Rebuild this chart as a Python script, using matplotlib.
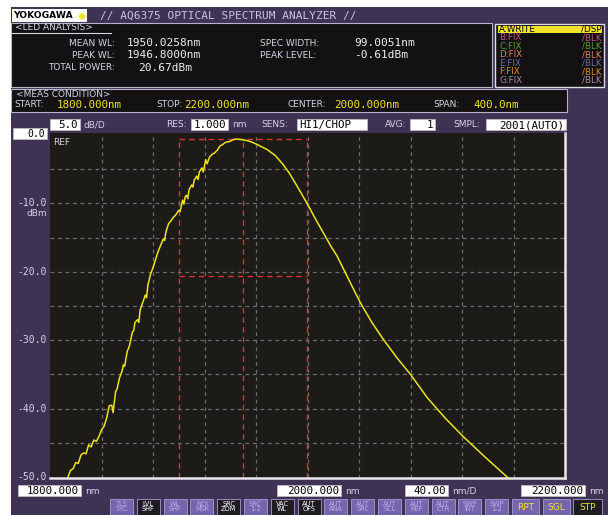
import matplotlib.pyplot as plt
from matplotlib.patches import Rectangle

# ---- data ----
wavelength_nm = [1814, 1816, 1818, 1820, 1822, 1824, 1826, 1828, 1830, 1832, 1834, 1836,
                 1838, 1840, 1842, 1844, 1845, 1846, 1848, 1849, 1850, 1851, 1852, 1854,
                 1856, 1857, 1858, 1860, 1861, 1862, 1864, 1865, 1866, 1868, 1869, 1870,
                 1871, 1872, 1874, 1875, 1876, 1878, 1880, 1882, 1884, 1886, 1888, 1889,
                 1890, 1892, 1894, 1896, 1898, 1900, 1901, 1902, 1903, 1904, 1905, 1906,
                 1907, 1908, 1910, 1911, 1912, 1914, 1915, 1916, 1918, 1919, 1920, 1921,
                 1922, 1924, 1926, 1928, 1930, 1932, 1934, 1936, 1938, 1940, 1942, 1944,
                 1946.8, 1950, 1955, 1960, 1968.5, 1975, 1981, 1986, 1992, 2000, 2006,
                 2012, 2018, 2023, 2028, 2033, 2041, 2050, 2059, 2070, 2080, 2093, 2107,
                 2121, 2138, 2155, 2165]
level_dbm = [-50.0, -49.0, -48.8, -47.9, -48.0, -46.8, -46.5, -46.6, -45.3, -45.6, -44.6, -44.8,
             -44.1, -43.1, -42.6, -41.4, -40.5, -39.6, -39.5, -40.6, -39.0, -37.5, -37.2, -35.5,
             -34.5, -33.6, -33.8, -31.6, -31.2, -30.6, -28.8, -28.6, -27.4, -27.0, -27.4, -25.6,
             -25.0, -24.5, -23.4, -23.8, -22.0, -20.4, -19.4, -18.2, -17.0, -16.1, -15.2, -15.4,
             -14.2, -13.0, -12.5, -12.0, -11.6, -11.0, -11.2, -10.4, -9.5, -10.1, -9.0, -8.8,
             -9.3, -8.0, -7.3, -7.6, -6.6, -6.0, -6.5, -5.4, -4.8, -5.4, -4.5, -3.6,
             -4.2, -3.2, -2.8, -2.6, -2.2, -1.6, -1.4, -1.1, -1.0, -0.9, -0.7, -0.6,
             -0.61, -0.7, -0.9, -1.3, -2.1, -3.0, -4.3, -5.6, -7.5, -10.1, -12.2,
             -14.2, -16.2, -17.7, -19.6, -21.5, -24.5, -27.4, -29.9, -32.7, -35.0, -38.4, -41.4,
             -44.1, -47.1, -50.0, -51.5]

mean_wl = 1950.0258
peak_wl = 1946.8000
total_power = 20.67
spec_width = 99.0051
peak_level = -0.61

start_nm, center_nm, stop_nm = 1800.0, 2000.0, 2200.0
span_nm = 400.0
ref_level = 0.0
db_per_div = 5.0
y_tick_values = [-10, -20, -30, -40, -50]

trace_names = ["A:WRITE", "B:FIX", "C:FIX", "D:FIX", "E:FIX", "F:FIX", "G:FIX"]
trace_modes = ["/DSP", "/BLK", "/BLK", "/BLK", "/BLK", "/BLK", "/BLK"]
trace_colors = ["black", "#c8508c", "#52a030", "#d88070", "#6c6aa4", "#e08a20", "#a98aa8"]

buttons = ["TLS\nSYC", "LVL\nSHF", "WL\nSHF", "NOI\nMSK", "SRC\nZOM", "SRC\n1-2", "VAC\nWL",
           "AUT\nOFS", "AUT\nANA", "AUT\nSRC", "AUT\nSCL", "AUT\nREF", "AUT\nCTR",
           "SWP\nINT", "SWP\n1-2"]
dark_buttons = ["LVL\nSHF", "SRC\nZOM", "VAC\nWL", "AUT\nOFS"]

# ---- colours ----
PURPLE = "#3e3255"
PANEL = "#131111"
PLOT_BG = "#1c1b18"
GRID = "#6c6c6c"
TRACE = "#eee21e"
LAB = "#d6d3e4"
YEL = "#f2e22a"
RED = "#e03030"
MONO = "DejaVu Sans Mono"

W, H = 611, 515
fig = plt.figure(figsize=(W / 100, H / 100), dpi=100, facecolor="white")
bg = fig.add_axes([0, 0, 1, 1])
bg.set_xlim(0, W)
bg.set_ylim(H, 0)
bg.axis("off")


def rect(x0, y0, x1, y1, fc, ec="none", lw=0.8):
    bg.add_patch(Rectangle((x0, y0), x1 - x0, y1 - y0, facecolor=fc, edgecolor=ec, linewidth=lw))


def txt(x, y, s, size=6.5, color=LAB, ha="left", family="DejaVu Sans", **kw):
    bg.text(x, y, s, fontsize=size, color=color, ha=ha, va="center", family=family, **kw)


def valbox(x0, x1, y0, y1, s, size=7.8, left=False):
    rect(x0, y0, x1, y1, "white", ec="#bdbdbd", lw=0.6)
    if left:
        txt(x0 + 2, (y0 + y1) / 2 + 0.5, s, size, "black", family=MONO)
    else:
        txt(x1 - 2, (y0 + y1) / 2 + 0.5, s, size, "black", ha="right", family=MONO)


rect(11, 7, 608, 520, PURPLE)

# header
rect(12, 9, 87, 22, "white")
txt(13.5, 15.8, "YOKOGAWA", 6.6, "black", weight="bold")
txt(82, 15.5, "\u25c6", 7.5, YEL, ha="center")
txt(100, 15.5, "// AQ6375 OPTICAL SPECTRUM ANALYZER //", 8, "#c9c2e0", family=MONO)

# LED analysis panel
rect(11, 23, 492, 87, PANEL, ec="#b8b4c8")
txt(15, 28, "<LED ANALYSIS>", 6.5)
bg.plot([12, 111], [33, 33], color=LAB, lw=0.8)
txt(115, 43, "MEAN WL:", ha="right")
txt(115, 55, "PEAK WL:", ha="right")
txt(115, 68, "TOTAL POWER:", ha="right")
txt(127, 43, f"{mean_wl:.4f}nm", 8, "#f0f0f0", family=MONO)
txt(127, 55, f"{peak_wl:.4f}nm", 8, "#f0f0f0", family=MONO)
txt(138, 68, f"{total_power:.2f}dBm", 8, "#f0f0f0", family=MONO)
txt(260, 43, "SPEC WIDTH:")
txt(260, 55, "PEAK LEVEL:")
txt(354, 43, f"{spec_width:.4f}nm", 8, "#f0f0f0", family=MONO)
txt(354, 55, f"{peak_level:.2f}dBm", 8, "#f0f0f0", family=MONO)

# trace list box
rect(495, 24, 604, 87, PANEL, ec="#dcdce4", lw=1)
rect(498, 25.5, 602, 32.5, YEL)
for i, (name, mode, col) in enumerate(zip(trace_names, trace_modes, trace_colors)):
    y = 29.2 + 8.5 * i
    txt(499, y, name, 6.3, col)
    txt(602, y, mode, 6.3, col, ha="right")

# measurement condition panel
rect(11, 89, 567, 112, PANEL, ec="#b8b4c8")
txt(16, 94.5, "<MEAS CONDITION>", 6.5)
txt(14, 104.5, "START:", 6.5)
txt(57, 104.5, f"{start_nm:.3f}nm", 7.8, YEL, family=MONO)
txt(156, 104.5, "STOP:", 6.5)
txt(184, 104.5, f"{stop_nm:.3f}nm", 7.8, YEL, family=MONO)
txt(288, 104.5, "CENTER:", 6.5)
txt(334, 104.5, f"{center_nm:.3f}nm", 7.8, YEL, family=MONO)
txt(433, 104.5, "SPAN:", 6.5)
txt(474, 104.5, f"{span_nm:.1f}nm", 7.8, YEL, family=MONO)

# settings row
valbox(50, 80, 119, 130, f"{db_per_div:.1f}")
txt(83, 124.5, "dB/D")
txt(166, 124.5, "RES:")
valbox(191, 228, 119, 130, "1.000")
txt(232, 124.5, "nm")
txt(261, 124.5, "SENS:")
valbox(297, 367, 119, 130, "HI1/CHOP", left=True)
txt(385, 124.5, "AVG:")
valbox(410, 435, 119, 130, "1")
txt(453, 124.5, "SMPL:")
valbox(486, 566, 119, 130, "2001(AUTO)")

# plot area in pixels and the matching level range
X0, X1, Y0, Y1 = 50, 565, 133, 478
YMIN, YMAX = -50.15, 0.3

valbox(13, 47, 128, 139, f"{ref_level:.1f}", 7)
for v in y_tick_values:
    ypx = Y0 + (YMAX - v) / (YMAX - YMIN) * (Y1 - Y0)
    txt(47, ypx, f"{v:.1f}", 7, LAB, ha="right", family=MONO)
txt(47, 214, "dBm", 6.5, ha="right")

ax = fig.add_axes([X0 / W, 1 - Y1 / H, (X1 - X0) / W, (Y1 - Y0) / H])
ax.set_facecolor(PLOT_BG)
ax.set_xlim(start_nm, stop_nm)
ax.set_ylim(YMIN, YMAX)
for v in range(-45, 0, 5):
    ax.axhline(v, color=GRID, lw=0.9, ls=(0, (3, 3)))
step = span_nm / 10
for i in range(1, 10):
    ax.axvline(start_nm + i * step, color=GRID, lw=0.9, ls=(0, (3, 3)))

# spectral width box
lo, hi = mean_wl - spec_width / 2, mean_wl + spec_width / 2
ax.vlines([lo, mean_wl, hi], YMIN, peak_level, colors=RED, lw=1, linestyles=(0, (4, 3)))
ax.hlines([peak_level, peak_level - 20], lo, hi, colors=RED, lw=1, linestyles=(0, (4, 3)))

ax.plot(wavelength_nm, level_dbm, color=TRACE, lw=1.1, zorder=5)
ax.text(0.006, 0.985, "REF", transform=ax.transAxes, fontsize=6.5, color=LAB,
        va="top", ha="left")
ax.set_xticks([])
ax.set_yticks([])
for side in ["left", "top"]:
    ax.spines[side].set_visible(False)
for side in ["bottom", "right"]:
    ax.spines[side].set_color("#e8e8ec")
    ax.spines[side].set_linewidth(1.8)

# wavelength boxes under the plot
valbox(18, 81, 485, 496, f"{start_nm:.3f}")
txt(85, 491, "nm")
valbox(277, 341, 485, 496, f"{center_nm:.3f}")
txt(345, 491, "nm")
valbox(405, 448, 485, 496, f"{span_nm / 10:.2f}")
txt(452, 491, "nm/D")
valbox(521, 585, 485, 496, f"{stop_nm:.3f}")
txt(589, 491, "nm")

# soft keys
for i, b in enumerate(buttons):
    x0 = 110 + 26.8 * i
    dark = b in dark_buttons
    rect(x0, 499, x0 + 23, 520, "#1e1c22" if dark else "#7565ad", ec="#a49cd0", lw=0.6)
    c = "white" if dark else "#b9b0ee"
    txt(x0 + 11.5, 506.5, b, 4.8, c, ha="center", linespacing=0.95)
for x0, x1, label, dark in [(512, 539, "RPT", False), (543, 570, "SGL", False), (573, 602, "STP", True)]:
    rect(x0, 499, x1, 520, "#1e1c22" if dark else "#7565ad", ec="#a49cd0", lw=0.6)
    txt((x0 + x1) / 2, 507, label, 6.5, YEL, ha="center")

fig.savefig("out.png", dpi=100, facecolor="white")
